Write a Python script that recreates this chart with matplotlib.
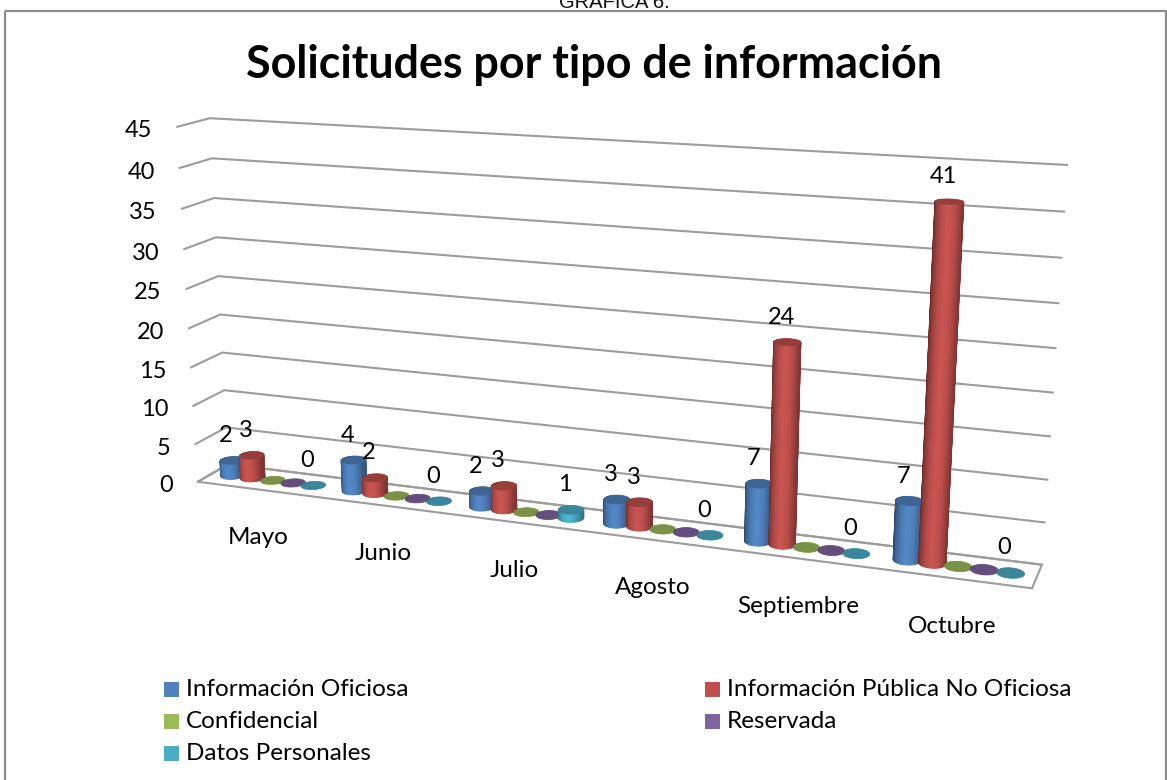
import numpy as np
import matplotlib
matplotlib.use("Agg")
import matplotlib.pyplot as plt
from matplotlib.collections import PolyCollection
from matplotlib.patches import Polygon, Rectangle

# Datos de la grafica
meses = ["Mayo", "Junio", "Julio", "Agosto", "Septiembre", "Octubre"]
series = ["Información Oficiosa", "Información Pública No Oficiosa", "Confidencial",
          "Reservada", "Datos Personales"]
oficiosa = [2, 4, 2, 3, 7, 7]
publica = [3, 2, 3, 3, 24, 41]
confidencial = [0, 0, 0, 0, 0, 0]
reservada = [0, 0, 0, 0, 0, 0]
personales = [0, 0, 1, 0, 0, 0]
valores = [oficiosa, publica, confidencial, reservada, personales]
con_etiqueta = [True, True, False, False, True]
colores = ["#4F81BD", "#C0504D", "#9BBB59", "#8064A2", "#4BACC6"]
ticks_y = list(range(0, 50, 5))

# Camara: esquinas de la caja 3D (mes, profundidad, valor) -> pixel
esquinas = [((0, 0, 0), (199, 481)), ((0, 1, 0), (227, 465)),
            ((6, 0, 0), (1032, 589)), ((6, 1, 0), (1042, 564)),
            ((0, 0, 45), (176, 127)), ((0, 1, 45), (211, 118)),
            ((6, 1, 45), (1067, 165))]
filas = []
for (X, Y, Z), (px, py) in esquinas:
    filas.append([X, Y, Z, 1, 0, 0, 0, 0, -px * X, -px * Y, -px * Z, -px])
    filas.append([0, 0, 0, 0, X, Y, Z, 1, -py * X, -py * Y, -py * Z, -py])
P = np.linalg.svd(np.array(filas, dtype=float))[2][-1].reshape(3, 4)


def proy(x, d, v):
    x, d, v = np.broadcast_arrays(x, d, v)
    h = P @ np.stack([x, d, v, np.ones_like(x, dtype=float)]).astype(float)
    return np.stack([h[0] / h[2], h[1] / h[2]], axis=-1)


fig = plt.figure(figsize=(11.67, 7.80), dpi=100)
ax = fig.add_axes([0, 0, 1, 1])
ax.set_xlim(0, 1167)
ax.set_ylim(780, 0)
ax.axis("off")
plt.rcParams["font.family"] = "Lato"

ax.add_patch(Rectangle((5, 11), 1161, 790, fill=False, ec="#8c8c8c", lw=1.6))
ax.text(614, 3, "GRÁFICA 6.", ha="center", va="center", fontsize=14.5,
        family="Liberation Sans", color="#111111")
ax.text(594.5, 65, "Solicitudes por tipo de información", ha="center", va="center",
        fontsize=32.3, fontweight="bold", color="black")

# Paredes y piso
gris = "#9c9c9c"
for v in ticks_y:
    ax.plot(*proy([0, 0, 6], [0, 1, 1], [v, v, v]).T, color=gris, lw=1.5, zorder=1)
    xt, yt = proy(0, 0, v)
    ax.text(xt - 25, yt + 4, str(v), ha="right", va="center", fontsize=17, color="black")
piso = proy([0, 6, 6, 0], [0, 0, 1, 1], [0, 0, 0, 0])
ax.add_patch(Polygon(piso, closed=True, fill=False, ec=gris, lw=1.5, zorder=1))

# Cilindros
ancho = 1 / 6
margen = 0.5 * ancho
radio = ancho * 0.52
radio_d = 0.21
ang = np.linspace(0, 2 * np.pi, 37)
paso = ang[1] / 2
base_a = [-1.0, -0.75, -0.3, 0.15, 0.55, 0.85, 1.0]
base_f = [0.50, 0.72, 0.95, 1.06, 0.98, 0.80, 0.66]
z = 2
for i in range(len(meses)):
    for j in range(len(series)):
        val = valores[j][i]
        cx = i + margen + (j + 0.5) * ancho
        xs = cx + radio * np.cos(ang)
        ds = 0.5 + radio_d * np.sin(ang)
        abajo = proy(xs, ds, 0.0)
        arriba = proy(xs, ds, float(val))
        rgb = np.array(matplotlib.colors.to_rgb(colores[j]))
        # de atras hacia adelante, de izquierda a derecha en la cara visible
        orden = np.argsort(-np.sin(ang[:-1] + paso))
        quads, cols = [], []
        for k in orden:
            quads.append([abajo[k], abajo[k + 1], arriba[k + 1], arriba[k]])
            f = np.interp(np.cos(ang[k] + paso), base_a, base_f)
            cols.append(np.clip(rgb * f, 0, 1))
        ax.add_collection(PolyCollection(quads, facecolors=cols, edgecolors=cols, lw=0.7, zorder=z))
        ax.add_patch(Polygon(arriba, closed=True, fc=rgb * 0.78, ec=rgb * 0.78, lw=0.3, zorder=z + 1))
        z += 2
        if con_etiqueta[j]:
            xl, yl = proy(cx, 0.5, val)
            ax.text(xl - 6, yl - 25, str(val), ha="center", va="center", fontsize=17,
                    color="black", zorder=200)
    xm, ym = proy(i + 0.5, 0, 0)
    ax.text(xm, ym + 48, meses[i], ha="center", va="center", fontsize=17.5, color="black")

# Leyenda
pos_x = [164, 705]
pos_y = [689, 721, 753]
for j, nombre in enumerate(series):
    lx = pos_x[j % 2]
    ly = pos_y[j // 2]
    ax.add_patch(Rectangle((lx, ly - 7.5), 15, 15, fc=colores[j], ec="none"))
    ax.text(lx + 22, ly + 1, nombre, ha="left", va="center", fontsize=17.5, color="black")

fig.savefig("out.png", dpi=100)
